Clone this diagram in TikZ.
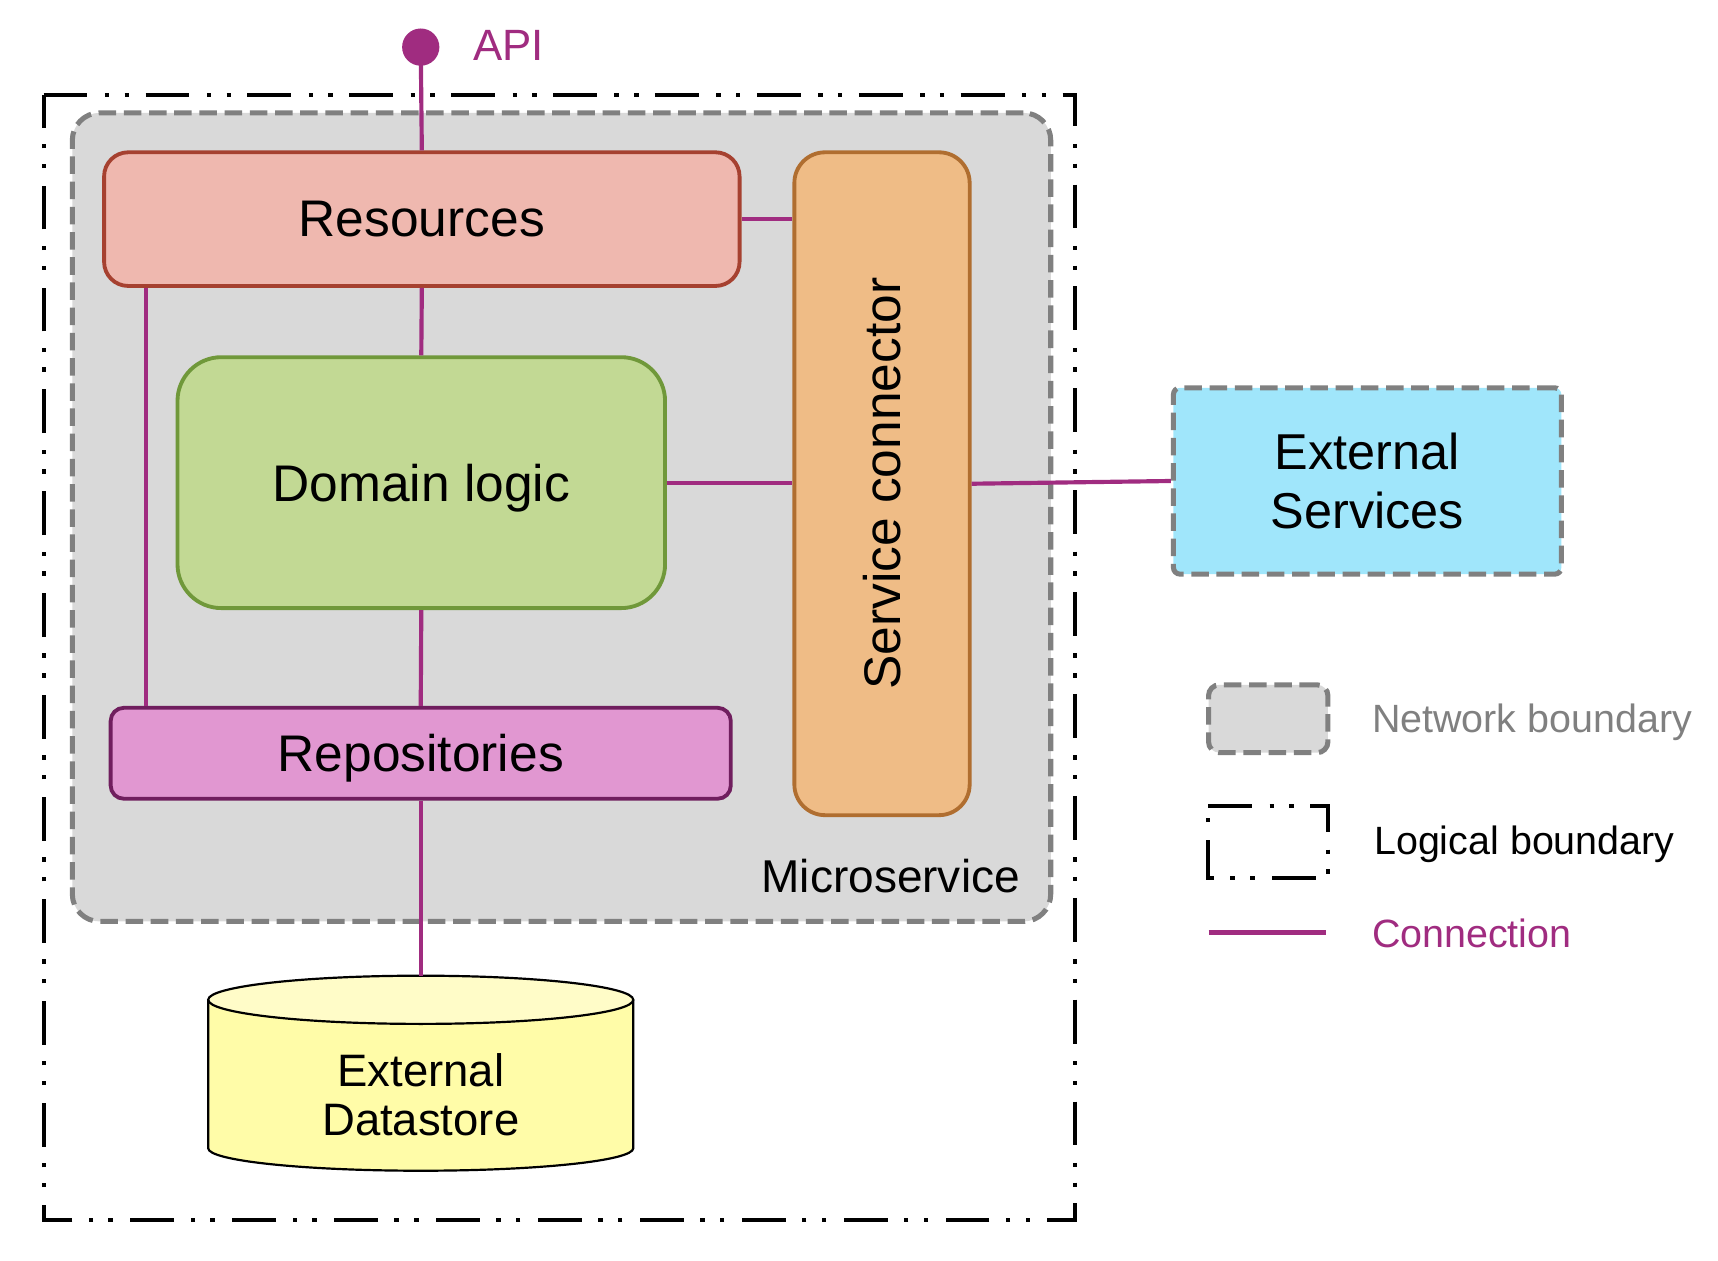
\documentclass[tikz,border=0pt]{standalone}
\usepackage{fontspec}
\setmainfont{Liberation Sans}
\usetikzlibrary{calc}
\definecolor{conncol}{RGB}{160,44,128}
\definecolor{msfill}{RGB}{217,217,217}
\definecolor{msdraw}{RGB}{128,128,128}
\definecolor{resfill}{RGB}{239,184,175}
\definecolor{resdraw}{RGB}{166,65,48}
\definecolor{domfill}{RGB}{194,217,148}
\definecolor{domdraw}{RGB}{112,152,58}
\definecolor{scfill}{RGB}{239,188,134}
\definecolor{scdraw}{RGB}{176,110,48}
\definecolor{repfill}{RGB}{225,151,209}
\definecolor{repdraw}{RGB}{112,30,94}
\definecolor{extfill}{RGB}{160,230,251}
\definecolor{dsfill}{RGB}{255,252,168}
\definecolor{dstop}{RGB}{255,252,200}
\tikzset{
  conn/.style={draw=conncol,line width=3.8pt},
  logical/.style={draw=black,line width=3.7pt,dash pattern=on 40pt off 16pt on 4pt off 14pt on 4pt off 15pt},
  netb/.style={draw=msdraw,line width=4.6pt,dash pattern=on 16pt off 7pt},
  box/.style={rectangle,line width=3.5pt,inner sep=0pt,font=\fontsize{47}{56}\selectfont,align=center},
  onebox/.style={box,text depth=0pt},
  legtext/.style={anchor=west,font=\fontsize{36}{43}\selectfont,inner sep=0pt,text depth=0pt}
}
\begin{document}
\begin{tikzpicture}[x=1pt,y=-1pt]
\useasboundingbox (0,0) rectangle (1568,1150);
% logical boundary
\node[rectangle,minimum width=941pt,minimum height=1026pt,inner sep=0pt] (lb) at (510.5,600) {};
\draw[logical] (lb.north west) -- (lb.north east) -- (lb.south east) -- (lb.south west) -- cycle;
% microservice network boundary
\node[netb,fill=msfill,rectangle,rounded corners=25pt,minimum width=893pt,minimum height=738pt,inner sep=0pt] (ms) at (512.5,472) {};
\node[anchor=base east,font=\fontsize{42}{50}\selectfont,inner sep=0pt] (mslabel) at (931,815) {Microservice};
% boxes
\node[onebox,fill=resfill,draw=resdraw,rounded corners=22pt,minimum width=580pt,minimum height=122pt] (res) at (385,200) {Resources};
\node[onebox,fill=domfill,draw=domdraw,rounded corners=40pt,minimum width=445pt,minimum height=229pt] (dom) at (384.5,440.5) {Domain logic};
\node[onebox,fill=repfill,draw=repdraw,rounded corners=12pt,minimum width=566pt,minimum height=83pt] (rep) at (384,687.5) {Repositories};
\node[box,fill=scfill,draw=scdraw,rounded corners=28pt,minimum width=160pt,minimum height=605pt] (sc) at (805,441.5) {};
\node[font=\fontsize{47}{56}\selectfont,rotate=90,inner sep=0pt] (sclabel) at (sc.center) {Service connector};
\node[box,fill=extfill,draw=msdraw,line width=4.6pt,dash pattern=on 16pt off 7pt,rounded corners=6pt,minimum width=354pt,minimum height=170pt,font=\fontsize{46}{54}\selectfont] (ext) at (1248,439) {External\\Services};
% datastore cylinder
\coordinate (dsL) at (190,912.5);
\coordinate (dsR) at (578,912.5);
\coordinate (dstopc) at (384,890.5);
\fill[dsfill] (dsL) -- (190,1048) arc[start angle=180,end angle=360,x radius=194pt,y radius=20.5pt] -- (dsR) -- cycle;
\draw[line width=2pt,fill=dstop] (384,912.5) ellipse[x radius=194pt,y radius=22pt];
\draw[line width=2pt] (dsL) -- (190,1048) arc[start angle=180,end angle=360,x radius=194pt,y radius=20.5pt] -- (dsR);
\node[font=\fontsize{41.5}{45}\selectfont,align=center,inner sep=0pt] (ds) at (384,999) {External\\Datastore};
% API
\node[circle,fill=conncol,minimum size=34pt,inner sep=0pt] (api) at (384,43) {};
\node[anchor=base west,text=conncol,font=\fontsize{40}{48}\selectfont,inner sep=0pt] (apilabel) at (431.5,55.5) {API};
% connections
\draw[conn] (api.center) -- (res.north);
\draw[conn] (res.south) -- (dom.north);
\draw[conn] ([xshift=40pt]res.south west) -- ([xshift=40pt]res.south west |- rep.north);
\draw[conn] (dom.south) -- (rep.north);
\draw[conn] (res.east) -- (res.east -| sc.west);
\draw[conn] (dom.east) -- (dom.east -| sc.west);
\draw[conn] (sc.east) -- (ext.west);
\draw[conn] (rep.south) -- (dstopc);
% legend
\node[netb,fill=msfill,rectangle,rounded corners=10pt,minimum width=109pt,minimum height=62pt,inner sep=0pt] (lg1) at (1157.5,656) {};
\node[legtext,text=msdraw] (lt1) at (1252,655.3) {Network boundary};
\node[rectangle,minimum width=109pt,minimum height=65pt,inner sep=0pt] (lg2) at (1157.5,768.5) {};
\draw[logical] (lg2.north west) -- (lg2.north east) -- (lg2.south east) -- (lg2.south west) -- cycle;
\node[legtext] (lt2) at (1254,767) {Logical boundary};
\coordinate (lg3a) at (1103,851);
\coordinate (lg3b) at (1210,851);
\draw[conn] (lg3a) -- (lg3b);
\node[legtext,text=conncol] (lt3) at (1252,851.8) {Connection};
\end{tikzpicture}
\end{document}
